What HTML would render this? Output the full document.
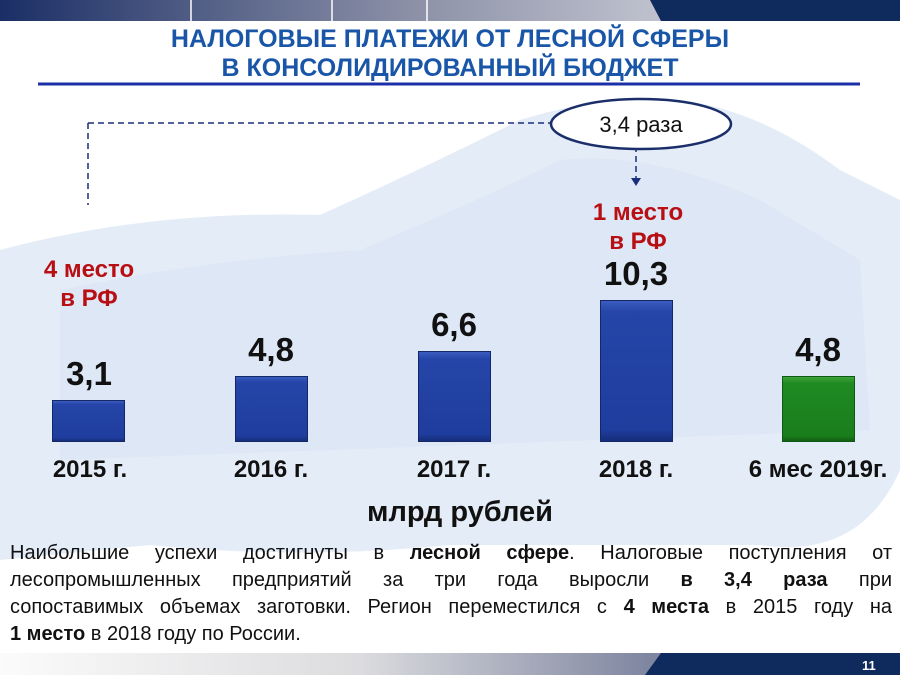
<!DOCTYPE html>
<html><head><meta charset="utf-8"><style>
body{margin:0;width:900px;height:675px;overflow:hidden;background:#fff;font-family:"Liberation Sans",sans-serif;position:relative}
.a{position:absolute}
.v{position:absolute;font-weight:bold;font-size:33px;color:#111;text-align:center;width:120px}
.y{position:absolute;font-weight:bold;font-size:24px;color:#111;text-align:center;width:200px;top:456px}
.r{position:absolute;font-weight:bold;font-size:24px;color:#b80f14;text-align:center;width:160px;line-height:29px}
.bar{position:absolute;background:linear-gradient(#3a5cc0 0,#2545a8 8%,#1f3d9e 92%,#162d7a 100%);border:1px solid #142868;box-sizing:border-box;top:0}
.p div{text-align:justify;text-align-last:justify;height:27px;white-space:nowrap}
.p div.l{text-align-last:left}
</style></head><body>
<svg class="a" style="left:0;top:0" width="900" height="675">
<defs><linearGradient id="tg" x1="0" x2="1"><stop offset="0" stop-color="#1b2f66"/><stop offset="0.45" stop-color="#8a8fa6"/><stop offset="1" stop-color="#f2f2f4"/></linearGradient>
<linearGradient id="bg" x1="0" x2="1"><stop offset="0" stop-color="#fbfbfb"/><stop offset="0.4" stop-color="#dcdcdf"/><stop offset="0.72" stop-color="#7f86a0"/></linearGradient></defs>
<path d="M0 250 Q150 210 320 215 Q420 170 520 120 Q600 95 680 100 Q760 110 840 170 L900 200 L900 470 Q860 560 760 545 L450 545 Q300 560 150 545 L0 560Z" fill="#e4ecf7"/>
<path d="M60 290 Q200 260 360 250 Q480 200 560 160 Q650 150 760 200 L860 260 L870 430 L60 460Z" fill="#dbe6f4" opacity="0.7"/>
<rect x="0" y="0" width="900" height="21" fill="url(#tg)"/>
<path d="M650 0 L900 0 L900 21 L661 21Z" fill="#0f2a5c"/>
<line x1="191" y1="0" x2="191" y2="21" stroke="#fff" stroke-width="1.5"/>
<line x1="332" y1="0" x2="332" y2="21" stroke="#fff" stroke-width="1.5"/>
<line x1="427" y1="0" x2="427" y2="21" stroke="#fff" stroke-width="1.5"/>
<rect x="0" y="653" width="900" height="22" fill="url(#bg)"/>
<path d="M661 653 L900 653 L900 675 L645 675Z" fill="#0f2a5c"/>
<line x1="38" y1="84" x2="860" y2="84" stroke="#1a2fa8" stroke-width="3"/>
<path d="M88 123 L550 123" stroke="#1a2f7a" stroke-width="1.5" stroke-dasharray="6,4" fill="none"/>
<path d="M88 123 L88 205" stroke="#1a2f7a" stroke-width="1.5" stroke-dasharray="6,4" fill="none"/>
<path d="M636 146 L636 180" stroke="#1a2f7a" stroke-width="1.5" stroke-dasharray="6,4" fill="none"/>
<path d="M631 178 L636 186 L641 178Z" fill="#1a2f7a"/>
<ellipse cx="641" cy="124" rx="90" ry="25" fill="#fff" stroke="#1a2f6a" stroke-width="2.5"/>
<text x="641" y="132" font-family="Liberation Sans Narrow, Liberation Sans, sans-serif" font-size="22" text-anchor="middle" fill="#111">3,4 раза</text>
<text x="862" y="670" font-family="Liberation Sans" font-size="13" font-weight="bold" fill="#fff">11</text>
</svg>
<div class="a" style="left:0;width:900px;top:25px;text-align:center;font-weight:bold;font-size:25px;line-height:29px;color:#1a56a8">НАЛОГОВЫЕ ПЛАТЕЖИ ОТ ЛЕСНОЙ СФЕРЫ<br>В КОНСОЛИДИРОВАННЫЙ БЮДЖЕТ</div>
<div class="bar" style="left:52px;top:400px;width:73px;height:42px"></div>
<div class="bar" style="left:235px;top:376px;width:73px;height:66px"></div>
<div class="bar" style="left:418px;top:351px;width:73px;height:91px"></div>
<div class="bar" style="left:600px;top:300px;width:73px;height:142px"></div>
<div class="bar" style="left:782px;top:376px;width:73px;height:66px;background:linear-gradient(#3fa33a,#1f8a22 10%,#1a7d1c 92%,#125f14);border-color:#0f5a12"></div>
<div class="v" style="left:29px;top:355px">3,1</div>
<div class="v" style="left:211px;top:331px">4,8</div>
<div class="v" style="left:394px;top:306px">6,6</div>
<div class="v" style="left:576px;top:255px">10,3</div>
<div class="v" style="left:758px;top:331px">4,8</div>
<div class="y" style="left:-10px">2015 г.</div>
<div class="y" style="left:171px">2016 г.</div>
<div class="y" style="left:354px">2017 г.</div>
<div class="y" style="left:536px">2018 г.</div>
<div class="y" style="left:718px">6 мес 2019г.</div>
<div class="r" style="left:9px;top:255px">4 место<br>в РФ</div>
<div class="r" style="left:558px;top:198px">1 место<br>в РФ</div>
<div class="a" style="left:300px;width:320px;top:496px;text-align:center;font-weight:bold;font-size:29px;color:#111">млрд рублей</div>
<div class="a p" style="left:10px;width:882px;top:540px;font-size:20px;line-height:27px;color:#111">
<div>Наибольшие успехи достигнуты в <b>лесной сфере</b>. Налоговые поступления от</div>
<div>лесопромышленных предприятий за три года выросли <b>в 3,4 раза</b> при</div>
<div>сопоставимых объемах заготовки. Регион переместился с <b>4 места</b> в 2015 году на</div>
<div class="l"><b>1 место</b> в 2018 году по России.</div>
</div>
</body></html>
